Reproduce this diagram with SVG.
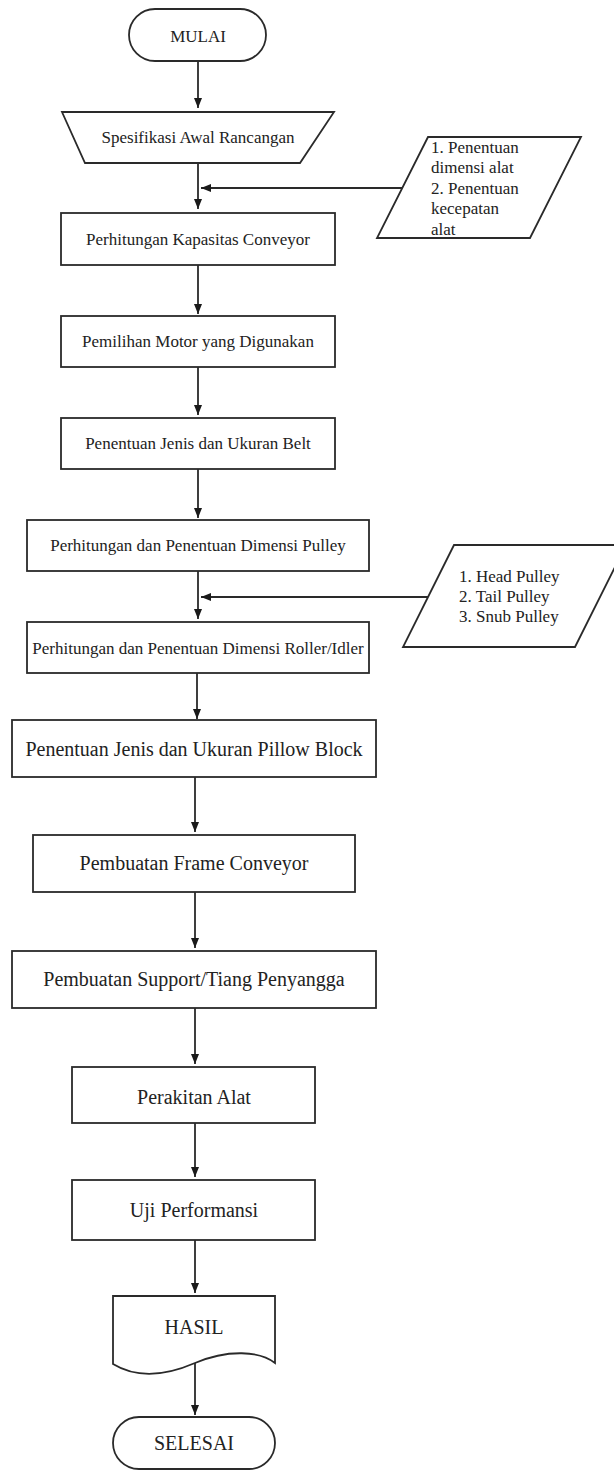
<svg xmlns="http://www.w3.org/2000/svg" width="614" height="1472" viewBox="0 0 614 1472">
<style>
.s{fill:#fff;stroke:#2a2a2a;stroke-width:1.8}
.t{font-family:"Liberation Serif","Times New Roman",serif;font-size:17px;fill:#222;text-anchor:middle}
.tl{font-family:"Liberation Serif","Times New Roman",serif;font-size:20px;fill:#222;text-anchor:middle}
.tp{font-family:"Liberation Serif","Times New Roman",serif;font-size:17px;fill:#222}
.c{fill:none;stroke:#2a2a2a;stroke-width:1.8;marker-end:url(#ah)}
</style>
<defs>
<marker id="ah" markerUnits="userSpaceOnUse" markerWidth="10" markerHeight="8" refX="10" refY="4" orient="auto">
<path d="M0,0 L10,4 L0,8 z" fill="#1a1a1a"/>
</marker>
</defs>
<rect width="614" height="1472" fill="#fff"/>
<g id="connectors">
<line class="c" x1="198" y1="61" x2="198" y2="108"/>
<line class="c" x1="198" y1="163" x2="198" y2="209"/>
<line class="c" x1="402" y1="188" x2="201" y2="188"/>
<line class="c" x1="198" y1="265" x2="198" y2="314"/>
<line class="c" x1="198" y1="367" x2="198" y2="415"/>
<line class="c" x1="198" y1="469" x2="198" y2="518"/>
<line class="c" x1="198" y1="571" x2="198" y2="619"/>
<line class="c" x1="428" y1="597" x2="201" y2="597"/>
<line class="c" x1="197" y1="673" x2="197" y2="719"/>
<line class="c" x1="195" y1="777" x2="195" y2="832"/>
<line class="c" x1="195" y1="892" x2="195" y2="948"/>
<line class="c" x1="195" y1="1008" x2="195" y2="1064"/>
<line class="c" x1="195" y1="1123" x2="195" y2="1177"/>
<line class="c" x1="195" y1="1240" x2="195" y2="1293"/>
<line class="c" x1="195" y1="1363" x2="195" y2="1415"/>
</g>
<g id="mulai">
<rect class="s" x="129" y="9" width="137" height="52" rx="26"/>
<text class="t" x="198" y="42">MULAI</text>
</g>
<g id="spesifikasi">
<polygon class="s" points="62,112 334,112 300,163 85,163"/>
<text class="t" x="198" y="143">Spesifikasi Awal Rancangan</text>
</g>
<g id="input1">
<polygon class="s" points="428,137 581,137 530,238 377,238"/>
<text class="tp" x="431" y="153">1. Penentuan</text>
<text class="tp" x="431" y="173">dimensi alat</text>
<text class="tp" x="431" y="194">2. Penentuan</text>
<text class="tp" x="431" y="214">kecepatan</text>
<text class="tp" x="431" y="235">alat</text>
</g>
<g id="kapasitas">
<rect class="s" x="61" y="213" width="274" height="52"/>
<text class="t" x="198" y="245">Perhitungan Kapasitas Conveyor</text>
</g>
<g id="motor">
<rect class="s" x="61" y="316" width="274" height="51"/>
<text class="t" x="198" y="347">Pemilihan Motor yang Digunakan</text>
</g>
<g id="belt">
<rect class="s" x="61" y="418" width="274" height="51"/>
<text class="t" x="198" y="449">Penentuan Jenis dan Ukuran Belt</text>
</g>
<g id="pulley">
<rect class="s" x="27" y="520" width="342" height="51"/>
<text class="t" x="198" y="551">Perhitungan dan Penentuan Dimensi Pulley</text>
</g>
<g id="input2">
<polygon class="s" points="454,545 626,545 575,647 403,647"/>
<text class="tp" x="459" y="582">1. Head Pulley</text>
<text class="tp" x="459" y="602">2. Tail Pulley</text>
<text class="tp" x="459" y="622">3. Snub Pulley</text>
</g>
<g id="roller">
<rect class="s" x="27" y="622" width="342" height="51"/>
<text class="t" x="198" y="654">Perhitungan dan Penentuan Dimensi Roller/Idler</text>
</g>
<g id="pillow">
<rect class="s" x="12" y="720" width="364" height="57"/>
<text class="tl" x="194" y="756">Penentuan Jenis dan Ukuran Pillow Block</text>
</g>
<g id="frame">
<rect class="s" x="33" y="835" width="322" height="57"/>
<text class="tl" x="194" y="870">Pembuatan Frame Conveyor</text>
</g>
<g id="support">
<rect class="s" x="12" y="951" width="364" height="57"/>
<text class="tl" x="194" y="986">Pembuatan Support/Tiang Penyangga</text>
</g>
<g id="perakitan">
<rect class="s" x="72" y="1067" width="243" height="56"/>
<text class="tl" x="194" y="1104">Perakitan Alat</text>
</g>
<g id="uji">
<rect class="s" x="72" y="1180" width="243" height="60"/>
<text class="tl" x="194" y="1217">Uji Performansi</text>
</g>
<g id="hasil">
<path class="s" d="M113,1296 L275,1296 L275,1363 C260,1351 228,1349 195,1363 C165,1376 136,1378 113,1364 Z"/>
<text class="tl" x="194" y="1334">HASIL</text>
</g>
<g id="selesai">
<rect class="s" x="113" y="1417" width="162" height="52" rx="26"/>
<text class="tl" x="194" y="1450">SELESAI</text>
</g>
</svg>
